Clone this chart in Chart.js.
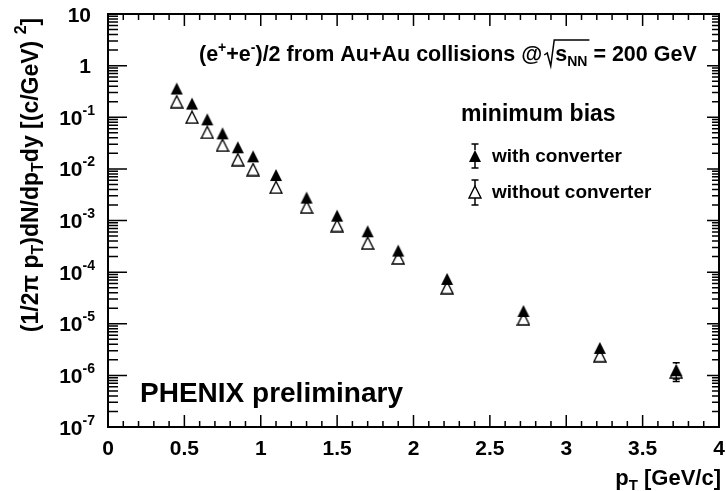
<!DOCTYPE html>
<html>
<head>
<meta charset="utf-8">
<script src="https://cdn.jsdelivr.net/npm/chart.js@4.4.1/dist/chart.umd.min.js"></script>
<style>
  html, body { margin: 0; padding: 0; background: #fff; }
  canvas { display: block; }
</style>
</head>
<body>
<canvas id="c" width="726" height="491"></canvas>
<script>
// pT bin centres [GeV/c]
const pT = [0.45, 0.55, 0.65, 0.75, 0.85, 0.95, 1.1, 1.3, 1.5, 1.7, 1.9, 2.22, 2.72, 3.22, 3.72];

// invariant yield, with converter (filled) and without (open)
const withConv = [0.36, 0.184, 0.091, 0.0488, 0.0262, 0.0175, 0.0076, 0.00278, 0.00124, 0.000618,
                  0.000261, 7.4e-5, 1.77e-5, 3.4e-6, 1.26e-6];
const withConvErr = [0.01, 0.005, 0.003, 0.0015, 0.0008, 0.0006, 0.0003, 0.0001, 0.00005, 0.00003,
                     0.00001, 3e-6, 1e-6, 3e-7, 5e-7];
const withoutConv = [0.20, 0.10, 0.051, 0.0287, 0.0151, 0.0097, 0.0044, 0.00182, 0.0008, 0.000365,
                     0.000188, 5.0e-5, 1.24e-5, 2.4e-6, 1.15e-6];
const withoutConvErr = [0.006, 0.003, 0.0015, 0.0009, 0.0005, 0.0003, 0.00015, 0.00006, 0.00003, 0.00002,
                        0.000008, 2e-6, 6e-7, 2e-7, 3e-7];

const xTicks = [0, 0.5, 1, 1.5, 2, 2.5, 3, 3.5, 4];
const xTickLabels = ['0', '0.5', '1', '1.5', '2', '2.5', '3', '3.5', '4'];
const yTicks = [10, 1, 1e-1, 1e-2, 1e-3, 1e-4, 1e-5, 1e-6, 1e-7];
const yTickLabels = ['10', '1', '10^-1', '10^-2', '10^-3', '10^-4', '10^-5', '10^-6', '10^-7'];

const FONT = '"Liberation Sans", Arial, Helvetica, sans-serif';
const HALF = 6; // half marker size, error bars hidden inside it (like ROOT)

// ROOT-like triangle markers
function marker(filled) {
  const m = document.createElement('canvas');
  m.width = 14; m.height = 14;
  const g = m.getContext('2d');
  g.beginPath();
  g.moveTo(7, 1); g.lineTo(13, 13); g.lineTo(1, 13); g.closePath();
  if (filled) { g.fillStyle = '#000'; g.fill(); }
  else { g.strokeStyle = '#000'; g.lineWidth = 1.4; g.stroke(); }
  return m;
}
const fullTri = marker(true);
const openTri = marker(false);

// text with sub/superscripts: parts = [text, size, dy]
function rich(ctx, parts, x, y, align) {
  let w = 0;
  parts.forEach(p => { ctx.font = 'bold ' + p[1] + 'px ' + FONT; w += ctx.measureText(p[0]).width; });
  let cx = align === 'right' ? x - w : align === 'center' ? x - w / 2 : x;
  parts.forEach(p => {
    ctx.font = 'bold ' + p[1] + 'px ' + FONT;
    ctx.fillText(p[0], cx, y + (p[2] || 0));
    cx += ctx.measureText(p[0]).width;
  });
  return w;
}

// vertical error bar with caps, skipping the part covered by the marker
function errBar(ctx, x, yc, y0, y1) {
  ctx.beginPath();
  if (yc - y0 > HALF) {
    ctx.moveTo(x, y0); ctx.lineTo(x, yc - HALF);
    ctx.moveTo(x - 3.5, y0); ctx.lineTo(x + 3.5, y0);
  }
  if (y1 - yc > HALF) {
    ctx.moveTo(x, y1); ctx.lineTo(x, yc + HALF);
    ctx.moveTo(x - 3.5, y1); ctx.lineTo(x + 3.5, y1);
  }
  ctx.stroke();
}

const rootStyle = {
  id: 'rootStyle',
  beforeDatasetsDraw(chart) {
    const ctx = chart.ctx, xs = chart.scales.x, ys = chart.scales.y;
    ctx.save();
    ctx.strokeStyle = '#000'; ctx.lineWidth = 1.5;
    [[withConv, withConvErr], [withoutConv, withoutConvErr]].forEach(([v, e]) => {
      v.forEach((y, i) => {
        const px = xs.getPixelForValue(pT[i]);
        errBar(ctx, px, ys.getPixelForValue(y), ys.getPixelForValue(y + e[i]), ys.getPixelForValue(y - e[i]));
      });
    });
    ctx.restore();
  },
  afterDraw(chart) {
    const ctx = chart.ctx, ca = chart.chartArea, xs = chart.scales.x, ys = chart.scales.y;
    ctx.save();
    ctx.strokeStyle = '#000'; ctx.fillStyle = '#000';

    // ticks
    ctx.lineWidth = 1.5;
    ctx.beginPath();
    for (let i = 0; i <= 40; i++) {
      const px = xs.getPixelForValue(i / 10);
      const len = i % 5 === 0 ? 12 : 6;
      ctx.moveTo(px, ca.bottom); ctx.lineTo(px, ca.bottom - len);
      ctx.moveTo(px, ca.top); ctx.lineTo(px, ca.top + len);
    }
    for (let e = -7; e <= 1; e++) {
      for (let m = 1; m <= 9; m++) {
        if (e === 1 && m > 1) break;
        const py = ys.getPixelForValue(m * Math.pow(10, e));
        const major = m === 1;
        ctx.moveTo(ca.left, py); ctx.lineTo(ca.left + (major ? 19 : 10), py);
        ctx.moveTo(ca.right, py); ctx.lineTo(ca.right - (major ? 12 : 7), py);
      }
    }
    ctx.stroke();

    // frame
    ctx.lineWidth = 2;
    ctx.strokeRect(ca.left, ca.top, ca.right - ca.left, ca.bottom - ca.top);

    // tick labels
    ctx.textBaseline = 'alphabetic';
    xTicks.forEach((v, i) => {
      rich(ctx, [[xTickLabels[i], 21]], xs.getPixelForValue(v), 455, 'center');
    });
    yTicks.forEach((v, i) => {
      const py = ys.getPixelForValue(v);
      const lab = yTickLabels[i];
      if (lab.indexOf('^') < 0) {
        rich(ctx, [[lab, 21]], 91, py + 7.5, 'right');
      } else {
        const [b, ex] = lab.split('^');
        rich(ctx, [[b, 21], [ex, 14, -10]], 95, py + 7.5, 'right');
      }
    });

    // axis titles
    rich(ctx, [['p', 22], ['T', 15, 5], [' [GeV/c]', 22]], 721, 485, 'right');
    ctx.save();
    ctx.translate(38, 175);
    ctx.rotate(-Math.PI / 2);
    rich(ctx, [['(1/2\u03c0 p', 23], ['T', 16, 5], [')dN/dp', 23], ['T', 16, 5],
               ['dy [(c/GeV) ', 23], ['2', 16, -12], [']', 23]], 0, 0, 'center');
    ctx.restore();

    // annotation
    const w0 = rich(ctx, [['(e', 21.5], ['+', 14, -9], ['+e', 21.5], ['-', 14, -9], [')/2 from Au+Au collisions @', 21.5]], 199, 61, 'left');
    const rx = 199 + w0 + 2;
    ctx.lineWidth = 1.5;
    ctx.font = 'bold 21.5px ' + FONT;
    const sW = ctx.measureText('s').width;
    ctx.font = 'bold 14px ' + FONT;
    const nW = ctx.measureText('NN').width;
    ctx.beginPath();
    ctx.moveTo(rx, 55); ctx.lineTo(rx + 3, 53); ctx.lineTo(rx + 6.5, 66);
    ctx.lineTo(rx + 10, 40); ctx.lineTo(rx + 11 + sW + nW + 2, 40);
    ctx.stroke();
    rich(ctx, [['s', 21.5], ['NN', 14, 5], [' = 200 GeV', 21.5]], rx + 11, 61, 'left');

    rich(ctx, [['minimum bias', 23]], 461, 121, 'left');

    // legend
    ctx.lineWidth = 1.5;
    errBar(ctx, 475, 156, 144, 168);
    ctx.drawImage(fullTri, 475 - 7, 156 - 7);
    errBar(ctx, 475, 192, 180, 205);
    ctx.drawImage(openTri, 475 - 7, 192 - 7);
    rich(ctx, [['with converter', 19]], 492, 162, 'left');
    rich(ctx, [['without converter', 19]], 492, 198, 'left');

    rich(ctx, [['PHENIX preliminary', 28]], 140, 402, 'left');
    ctx.restore();
  }
};

new Chart(document.getElementById('c'), {
  type: 'scatter',
  data: {
    datasets: [{
      label: 'with converter',
      data: pT.map((x, i) => ({ x: x, y: withConv[i] })),
      pointStyle: fullTri,
      pointRadius: 6
    }, {
      label: 'without converter',
      data: pT.map((x, i) => ({ x: x, y: withoutConv[i] })),
      pointStyle: openTri,
      pointRadius: 6
    }]
  },
  options: {
    responsive: false,
    animation: false,
    layout: { padding: { left: 108, top: 14, right: 4, bottom: 64 } },
    scales: {
      x: { type: 'linear', min: 0, max: 4, display: false },
      y: { type: 'logarithmic', min: 1e-7, max: 10, display: false }
    },
    plugins: { legend: { display: false }, tooltip: { enabled: false } }
  },
  plugins: [rootStyle]
});
</script>
</body>
</html>
